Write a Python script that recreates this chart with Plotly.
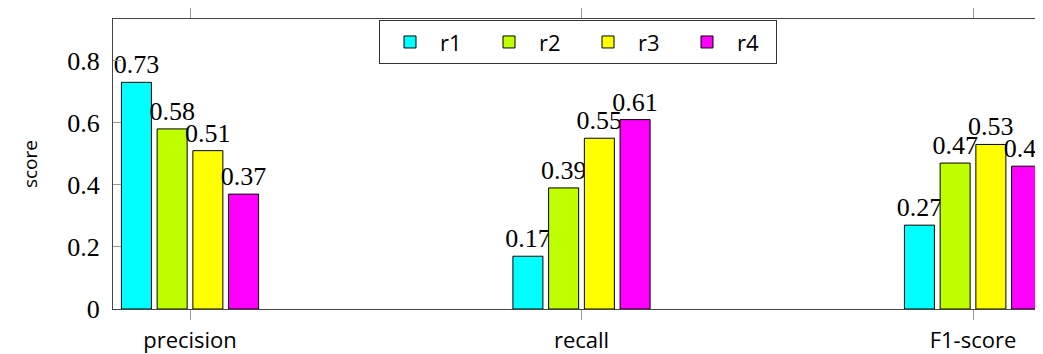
import plotly.graph_objects as go

categories = ["precision", "recall", "F1-score"]
series_names = ["r1", "r2", "r3", "r4"]
r1 = [0.73, 0.17, 0.27]
r2 = [0.58, 0.39, 0.47]
r3 = [0.51, 0.55, 0.53]
r4 = [0.37, 0.61, 0.46]
colors = ["#00FFFF", "#BFFF00", "#FFFF00", "#FF00FF"]
y_ticks = [0, 0.2, 0.4, 0.6, 0.8]
y_tick_labels = ["0", "0.2", "0.4", "0.6", "0.8"]

serif = "Liberation Serif"
sans = "Open Sans"

fig = go.Figure()
for name, vals, col in zip(series_names, [r1, r2, r3, r4], colors):
    fig.add_trace(go.Bar(
        name=name,
        x=list(range(len(categories))),
        y=vals,
        marker=dict(color=col, line=dict(color="black", width=1)),
        text=[f"{v:.2f}" for v in vals],
        textposition="outside",
        constraintext="none",
        cliponaxis=False,
        textfont=dict(family=serif, size=26, color="black"),
    ))

fig.update_layout(
    width=1035, height=346,
    margin=dict(l=105, r=0, t=5, b=44),
    paper_bgcolor="white", plot_bgcolor="white",
    barmode="group", bargap=0.635, bargroupgap=0.16,
    showlegend=True,
    legend=dict(
        orientation="h", x=0.5, xanchor="center", y=0.996, yanchor="top",
        bordercolor="#333", borderwidth=1, bgcolor="white",
        font=dict(family=sans, size=22, color="black"),
        itemwidth=50, entrywidth=34, entrywidthmode="pixels",
    ),
    font=dict(family=sans, color="black"),
)
fig.update_xaxes(
    range=[-0.1967, 2.1788],
    tickmode="array", tickvals=list(range(len(categories))), ticktext=categories,
    tickfont=dict(family=sans, size=22, color="black"),
    ticks="outside", ticklen=10, tickcolor="#999", tickwidth=1,
    showline=True, linecolor="#444", linewidth=1, mirror="ticks",
    showgrid=False, zeroline=False, ticklabelstandoff=2,
)
fig.update_yaxes(
    range=[0, 0.934],
    tickmode="array", tickvals=y_ticks, ticktext=y_tick_labels,
    tickfont=dict(family=serif, size=26, color="black"),
    ticks="inside", ticklen=8, tickcolor="#999", tickwidth=1,
    showline=True, linecolor="#444", linewidth=1,
    showgrid=False, zeroline=False, ticklabelstandoff=7,
)
fig.add_annotation(
    text="score", textangle=-90, xref="paper", yref="paper",
    x=-0.0892, y=0.5, xanchor="center", yanchor="middle", showarrow=False,
    font=dict(family=sans, size=19, color="black"),
)
fig.write_html("out.html")
